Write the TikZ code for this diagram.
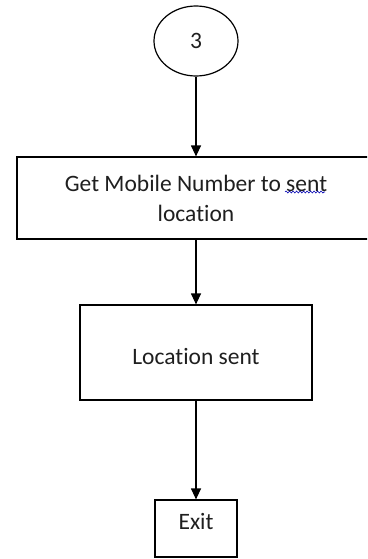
\documentclass[tikz,border=0pt]{standalone}
\usepackage{fontspec}
\setmainfont{Carlito}[Ligatures=NoCommon]
\usetikzlibrary{arrows.meta,shapes.geometric,decorations.pathmorphing}

\begin{document}
\begin{tikzpicture}[x=1pt,y=-1pt,line width=1.2pt,>={Triangle[length=11pt,width=10pt]},
    every node/.style={font=\fontsize{23.5}{30}\selectfont,text=black!88},
    spellwave/.style={blue!70!black,line width=0.6pt,decorate,decoration={snake,segment length=3.5pt,amplitude=1pt}}]
                \useasboundingbox (0,0) rectangle (367,559);
                \clip (0,0) rectangle (367,559);
                \node[draw,ellipse,minimum width=84,minimum height=70] (circ) at (196,41) {3};
                \node[draw,minimum width=358,minimum height=82,align=center] (getnum) at (196,198) {Get Mobile Number to sent\\location};
                \node[draw,minimum width=232,minimum height=95,text height=25pt] (locsent) at (196,352.5) {Location sent};
                \node[draw,minimum width=82,minimum height=57,text depth=15pt] (exitbox) at (196,528.5) {Exit};
                \draw[->] (circ) -- (getnum);
                \draw[->] (getnum) -- (locsent);
                \draw[->] (locsent) -- (exitbox);
                % squiggle under "sent"
                \draw[spellwave] ([xshift=89pt,yshift=6pt]getnum.center) -- ([xshift=129pt,yshift=6pt]getnum.center);
            \end{tikzpicture}
\end{document}
